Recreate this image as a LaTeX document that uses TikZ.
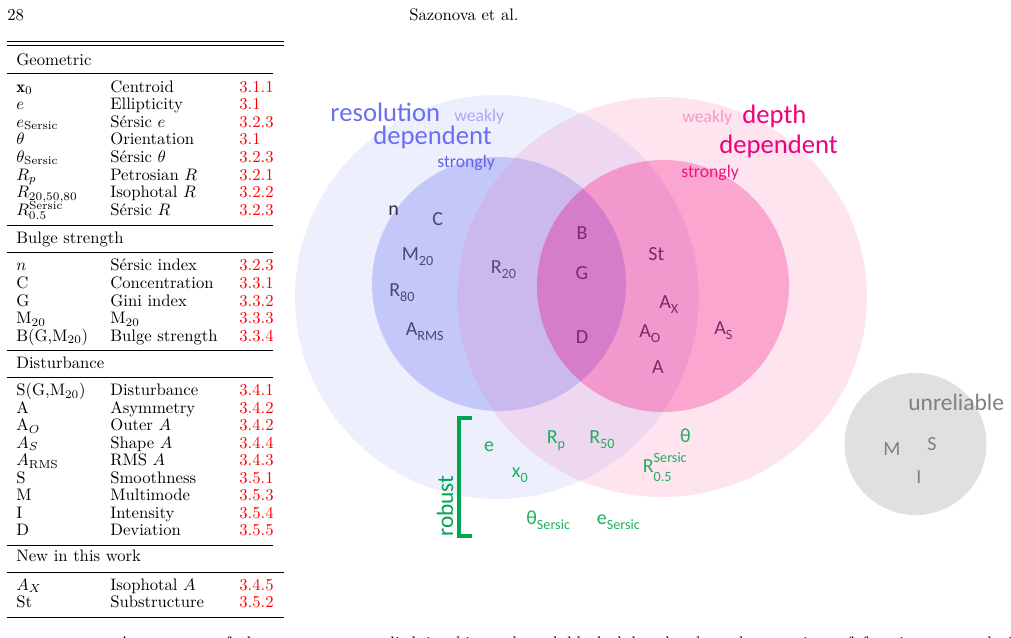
\documentclass[tikz,border=0pt]{standalone}
\usepackage{fontspec}
\newfontfamily\cali{Carlito}
\definecolor{cB1}{HTML}{EEEFFD}
\definecolor{cB2}{HTML}{C4C7FA}
\definecolor{cP1}{HTML}{FDE4EF}
\definecolor{cP2}{HTML}{FAA6CE}
\definecolor{cB1P1}{HTML}{EED8F0}
\definecolor{cB1P2}{HTML}{F298CC}
\definecolor{cB2P1}{HTML}{CBB9EE}
\definecolor{cB2P2}{HTML}{D57DC8}
\definecolor{cGr}{HTML}{E0E0E0}
\definecolor{tBlue}{HTML}{6A6EF2}
\definecolor{tBlueW}{HTML}{A5AAFA}
\definecolor{tBlueS}{HTML}{5F64EB}
\definecolor{tPink}{HTML}{F0007D}
\definecolor{tPinkW}{HTML}{F896BE}
\definecolor{tPinkS}{HTML}{F01482}
\definecolor{tDB}{HTML}{46487D}
\definecolor{tN}{HTML}{2D2D46}
\definecolor{tPur}{HTML}{5F4682}
\definecolor{tMag}{HTML}{7D286E}
\definecolor{tGreen}{HTML}{1EAF5F}
\definecolor{tBrk}{HTML}{00A550}
\definecolor{tGrey}{HTML}{808080}
\definecolor{tRed}{HTML}{FF0000}
\newcommand\sbs[1]{\raisebox{-0.25em}{\fontsize{8.5}{9}\selectfont #1}}
\newcommand\trow[5]{%
  \node[tcell] (#1a) at (16,#2) {#3};
  \node[tcell] (#1b) at (110,#2) {#4};
  \node[tcell,text=tRed] (#1c) at (239,#2) {#5};}
\begin{document}
\begin{tikzpicture}[x=0.6pt,y=-0.6pt,
  tcell/.style={inner sep=0,anchor=base west,font=\fontsize{10}{12}\selectfont},
  lab/.style={inner sep=0,anchor=base west,font=\cali\fontsize{12}{14}\selectfont},
  big/.style={inner sep=0,anchor=base west,font=\cali\fontsize{16}{18}\selectfont},
  small/.style={inner sep=0,anchor=base west,font=\cali\fontsize{10.6}{12}\selectfont},
  trule/.style={line width=0.4pt}]
\useasboundingbox (0,0) rectangle (1011,637);
% header
\node[tcell] (pgno) at (7,20) {28};
\node[tcell,anchor=base] (auth) at (464,20) {Sazonova et al.};
% Venn circles
\fill[cB1] (497,297) circle[radius=202];
\fill[cP1] (662,297) ellipse[x radius=205,y radius=200];
\fill[cB2] (499,284) circle[radius=127];
\fill[cP2] (663,286) circle[radius=126];
\begin{scope}
  \clip (497,297) circle[radius=202];
  \fill[cB1P1] (662,297) ellipse[x radius=205,y radius=200];
  \fill[cB1P2] (663,286) circle[radius=126];
\end{scope}
\begin{scope}
  \clip (499,284) circle[radius=127];
  \fill[cB2P1] (662,297) ellipse[x radius=205,y radius=200];
  \fill[cB2P2] (663,286) circle[radius=126];
\end{scope}
\fill[cGr] (915.5,444) circle[radius=71];
% titles
\node[big,text=tBlue] (res) at (330,121.5) {resolution};
\node[big,text=tBlue] (dep1) at (373,144) {dependent};
\node[small,text=tBlueW] (bw) at (454,121) {weakly};
\node[small,text=tBlueS] (bs) at (437,167) {strongly};
\node[small,text=tPinkW] (pw) at (682,122.5) {weakly};
\node[big,text=tPink] (dpt) at (742,123) {depth};
\node[big,text=tPink] (dep2) at (719,153.3) {dependent};
\node[small,text=tPinkS] (ps) at (681,177) {strongly};
% blue labels
\node[lab,text=tN] (ln) at (388,215) {n};
\node[lab,text=tDB] (lC) at (432,225) {C};
\node[lab,text=tDB] (lM) at (401.5,260) {M\sbs{20}};
\node[lab,text=tDB] (lR80) at (389,296) {R\sbs{80}};
\node[lab,text=tDB] (lArms) at (405.5,335) {A\sbs{RMS}};
\node[lab,text=tPur] (lR20) at (490.5,273) {R\sbs{20}};
% magenta labels
\node[lab,text=tMag,anchor=base] (lB) at (582,239) {B};
\node[lab,text=tMag,anchor=base] (lG) at (582,279) {G};
\node[lab,text=tMag,anchor=base] (lD) at (582,343) {D};
\node[lab,text=tMag] (lSt) at (648,260) {St};
\node[lab,text=tMag] (lAx) at (659,308) {A\sbs{X}};
\node[lab,text=tMag] (lAo) at (639,337) {A\sbs{O}};
\node[lab,text=tMag] (lAs) at (714,334) {A\sbs{S}};
\node[lab,text=tMag,anchor=base] (lA) at (658,373) {A};
% unreliable
\node[inner sep=0,anchor=base west,font=\cali\fontsize{14.1}{16}\selectfont,text=tGrey] (unr) at (908,410.5) {unreliable};
\node[lab,text=tGrey] (uM) at (883,455) {M};
\node[lab,text=tGrey] (uS) at (927,450) {S};
\node[lab,text=tGrey] (uI) at (916,483) {I};
% robust
\node[inner sep=0,anchor=base,rotate=90,font=\cali\fontsize{14}{16}\selectfont,text=tBrk] (rob) at (453,506) {robust};
\coordinate (b1) at (472,418);
\coordinate (b2) at (459,418);
\coordinate (b3) at (459,536);
\coordinate (b4) at (472,536);
\draw[tBrk,line width=2.2pt] (b1) -- (b2) -- (b3) -- (b4);
\node[lab,text=tGreen,anchor=base] (ge) at (489,451) {e};
\node[lab,text=tGreen] (gRp) at (546.5,443) {R\sbs{p}};
\node[lab,text=tGreen] (gR50) at (589,443) {R\sbs{50}};
\node[lab,text=tGreen,anchor=base] (gth) at (685.5,442) {θ};
\node[lab,text=tGreen] (gx0) at (511.5,477) {x\sbs{0}};
\node[lab,text=tGreen] (gRs) at (642.5,472) {R\rlap{\raisebox{0.5em}{\fontsize{8.5}{9}\selectfont Sersic}}\raisebox{-0.45em}{\fontsize{8.5}{9}\selectfont 0.5}};
\node[lab,text=tGreen] (gths) at (526,524.5) {θ\sbs{Sersic}};
\node[lab,text=tGreen] (ges) at (596.5,524.5) {e\sbs{Sersic}};
% table rules
\draw[line width=0.9pt] (7,41.7) -- (284,41.7);
\draw[trule] (7,45.8) -- (284,45.8);
\draw[trule] (7,73) -- (273,73);
\draw[trule] (7,225.5) -- (273,225.5);
\draw[trule] (7,252.7) -- (273,252.7);
\draw[trule] (7,350) -- (273,350);
\draw[trule] (7,377.3) -- (273,377.3);
\draw[trule] (7,545) -- (273,545);
\draw[trule] (7,572) -- (284,572);
\draw[line width=1.1pt] (7,617.5) -- (284,617.5);
% table text
\node[tcell] (hGeo) at (16,65) {Geometric};
\trow{r1}{92}{$\mathbf{x}_0$}{Centroid}{3.1.1}
\trow{r2}{109.6}{$e$}{Ellipticity}{3.1}
\trow{r3}{127.2}{$e_{\rm Sersic}$}{Sérsic $e$}{3.2.3}
\trow{r4}{144.8}{$\theta$}{Orientation}{3.1}
\trow{r5}{162.4}{$\theta_{\rm Sersic}$}{Sérsic $\theta$}{3.2.3}
\trow{r6}{180}{$R_p$}{Petrosian $R$}{3.2.1}
\trow{r7}{197.6}{$R_{20,50,80}$}{Isophotal $R$}{3.2.2}
\trow{r8}{215.2}{$R^{\rm Sersic}_{0.5}$}{Sérsic $R$}{3.2.3}
\node[tcell] (hBul) at (16,243.3) {Bulge strength};
\trow{r9}{270.7}{$n$}{Sérsic index}{3.2.3}
\trow{r10}{288.3}{C}{Concentration}{3.3.1}
\trow{r11}{306}{G}{Gini index}{3.3.2}
\trow{r12}{323.5}{M$_{20}$}{M$_{20}$}{3.3.3}
\trow{r13}{341}{B(G,M$_{20}$)}{Bulge strength}{3.3.4}
\node[tcell] (hDis) at (16,368.3) {Disturbance};
\trow{r14}{395.7}{S(G,M$_{20}$)}{Disturbance}{3.4.1}
\trow{r15}{413.2}{A}{Asymmetry}{3.4.2}
\trow{r16}{430.7}{A$_O$}{Outer $A$}{3.4.2}
\trow{r17}{448.2}{$A_S$}{Shape $A$}{3.4.4}
\trow{r18}{465.7}{$A_{\rm RMS}$}{RMS $A$}{3.4.3}
\trow{r19}{483.2}{S}{Smoothness}{3.5.1}
\trow{r20}{500.7}{M}{Multimode}{3.5.3}
\trow{r21}{518.2}{I}{Intensity}{3.5.4}
\trow{r22}{535.7}{D}{Deviation}{3.5.5}
\node[tcell] (hNew) at (16,561.7) {New in this work};
\trow{r23}{590}{$A_X$}{Isophotal $A$}{3.4.5}
\trow{r24}{607.5}{St}{Substructure}{3.5.2}
% cut-off body text
\begin{scope}
  \clip (0,0) rectangle (1011,637);
  \node[tcell] (body) at (118,648) {\makebox[547pt][s]{A summary of the parameters studied in this work and blocked by the dependence points of focusing on resolution}};
\end{scope}
\end{tikzpicture}
\end{document}
